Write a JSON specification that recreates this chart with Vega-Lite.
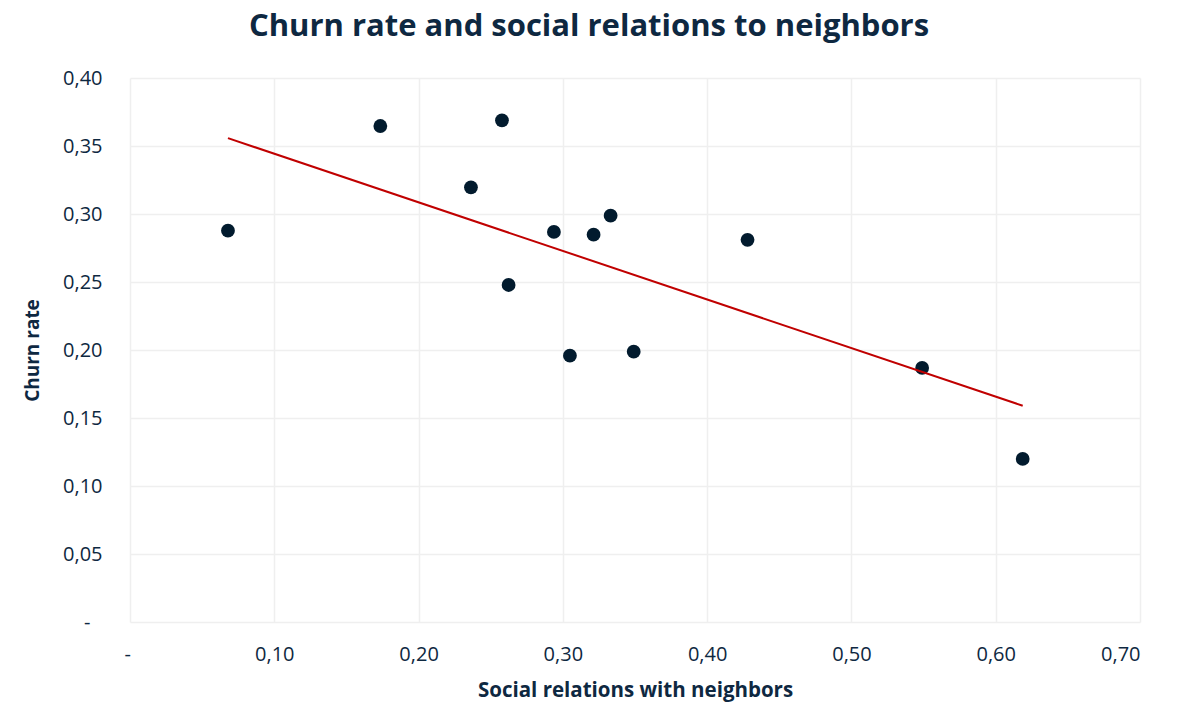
{
  "$schema": "https://vega.github.io/schema/vega-lite/v6.json",
  "width": 1010,
  "height": 544,
  "autosize": "none",
  "padding": {"left": 130, "top": 78, "right": 51, "bottom": 80},
  "background": "white",
  "title": {
    "text": "Churn rate and social relations to neighbors",
    "font": "Open Sans",
    "fontSize": 31,
    "fontWeight": "bold",
    "color": "#0e2841",
    "anchor": "middle",
    "frame": "group",
    "baseline": "alphabetic",
    "offset": 1,
    "dx": -46
  },
  "config": {
    "view": {"stroke": null},
    "axis": {
      "labelFont": "Open Sans",
      "labelFontSize": 20,
      "labelColor": "#0e2841",
      "titleFont": "Open Sans",
      "titleFontSize": 19,
      "titleFontWeight": "bold",
      "titleColor": "#0e2841",
      "gridColor": "#efefef",
      "gridWidth": 1.5,
      "domain": false,
      "ticks": false
    }
  },
  "data": {
    "values": [
      {"social": 0.0679, "churn": 0.2877},
      {"social": 0.1735, "churn": 0.3647},
      {"social": 0.2578, "churn": 0.3689},
      {"social": 0.2363, "churn": 0.3196},
      {"social": 0.2938, "churn": 0.2868},
      {"social": 0.3213, "churn": 0.2848},
      {"social": 0.3331, "churn": 0.2988},
      {"social": 0.2624, "churn": 0.2478},
      {"social": 0.3049, "churn": 0.1958},
      {"social": 0.3491, "churn": 0.1988},
      {"social": 0.428, "churn": 0.281},
      {"social": 0.549, "churn": 0.1868},
      {"social": 0.6187, "churn": 0.1199}
    ]
  },
  "encoding": {
    "x": {
      "field": "social",
      "type": "quantitative",
      "title": "Social relations with neighbors",
      "scale": {"domain": [0, 0.7], "nice": false, "zero": false},
      "axis": {
        "values": [0, 0.1, 0.2, 0.3, 0.4, 0.5, 0.6, 0.7],
        "labelExpr": "datum.value == 0 ? '-' : replace(format(datum.value, '.2f'), '.', ',')",
        "labelPadding": 22,
        "labelOffset": {"condition": {"test": "datum.value == 0", "value": -6}, "value": 0},
        "titlePadding": 16,
        "titleFontSize": 20.5,
        "grid": true
      }
    },
    "y": {
      "field": "churn",
      "type": "quantitative",
      "title": "Churn rate",
      "scale": {"domain": [0, 0.4], "nice": false, "zero": false},
      "axis": {
        "values": [0, 0.05, 0.1, 0.15, 0.2, 0.25, 0.3, 0.35, 0.4],
        "labelExpr": "datum.value == 0 ? '-' : replace(format(datum.value, '.2f'), '.', ',')",
        "labelPadding": {"condition": {"test": "datum.value == 0", "value": 40}, "value": 28},
        "titlePadding": 20,
        "grid": true
      }
    }
  },
  "layer": [
    {
      "mark": {"type": "circle", "size": 190, "color": "#021b2e", "opacity": 1}
    },
    {
      "transform": [{"regression": "churn", "on": "social"}],
      "mark": {"type": "line", "color": "#c00000", "strokeWidth": 2}
    }
  ]
}
